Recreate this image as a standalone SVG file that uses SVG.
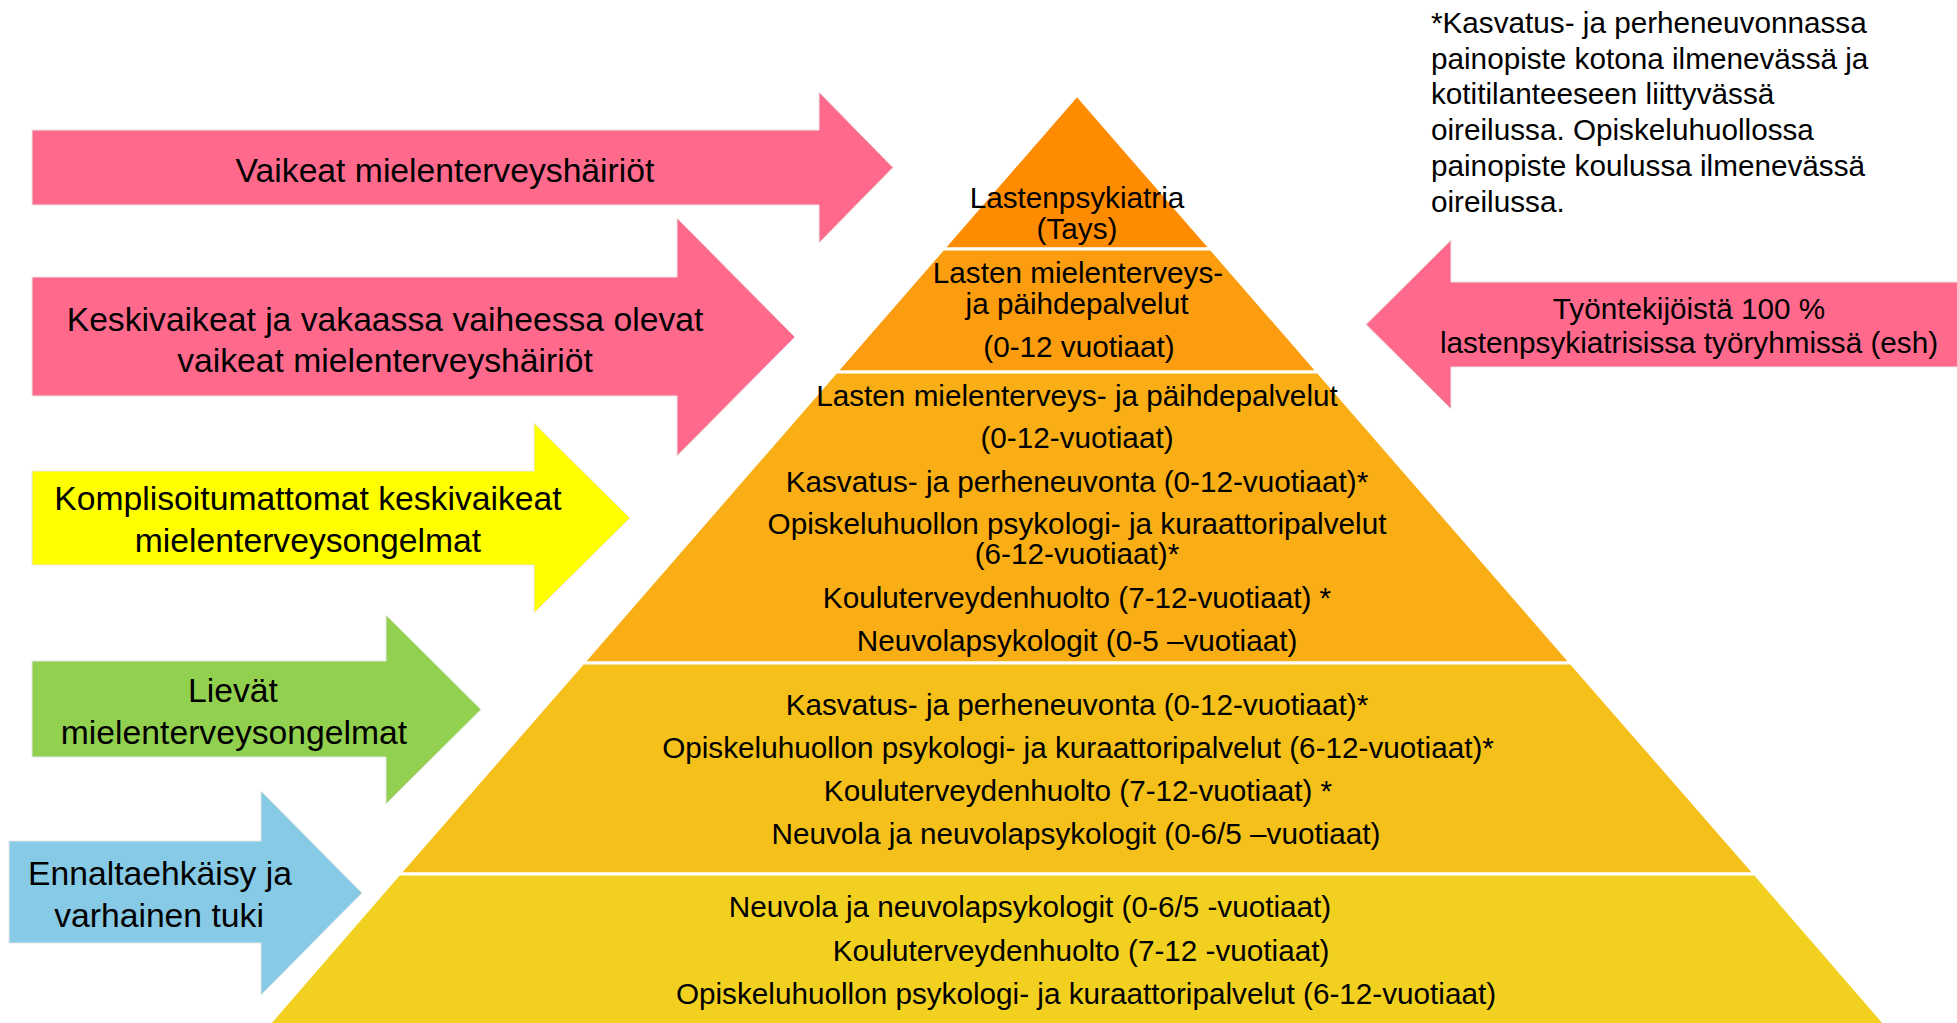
<svg xmlns="http://www.w3.org/2000/svg" width="1957" height="1023" viewBox="0 0 1957 1023">
<style>
text{font-family:"Liberation Sans",Arial,sans-serif;fill:#000}
.t{font-size:29.7px;text-anchor:middle}
.a{font-size:33.7px;text-anchor:middle}
.n{font-size:29.7px}
.pink{fill:#FF6A8C}
.lay{stroke:#ffffff;stroke-width:3}
.arr{stroke:#e6e6e6;stroke-width:1}
</style>
<rect width="1957" height="1023" fill="#ffffff"/>
<g id="connectors"/>
<g id="pyramid">
<g id="layer1"><polygon class="lay" fill="#FF8C00" points="1077,95 1211,249 943,249"/>
<text class="t" x="1077" y="208">Lastenpsykiatria</text>
<text class="t" x="1077" y="239">(Tays)</text></g>
<g id="layer2"><polygon class="lay" fill="#FB9D0E" points="943,249 1211,249 1318,372 836,372"/>
<text class="t" x="1078" y="283">Lasten mielenterveys-</text>
<text class="t" x="1077" y="314">ja päihdepalvelut</text>
<text class="t" x="1079" y="357">(0-12 vuotiaat)</text></g>
<g id="layer3"><polygon class="lay" fill="#F8AE14" points="836,372 1318,372 1571,663 583,663"/>
<text class="t" x="1077" y="406">Lasten mielenterveys- ja päihdepalvelut</text>
<text class="t" x="1077" y="448">(0-12-vuotiaat)</text>
<text class="t" x="1077" y="492">Kasvatus- ja perheneuvonta (0-12-vuotiaat)*</text>
<text class="t" x="1077" y="534">Opiskeluhuollon psykologi- ja kuraattoripalvelut</text>
<text class="t" x="1077" y="564">(6-12-vuotiaat)*</text>
<text class="t" x="1077" y="608">Kouluterveydenhuolto (7-12-vuotiaat) *</text>
<text class="t" x="1077" y="651">Neuvolapsykologit (0-5 –vuotiaat)</text></g>
<g id="layer4"><polygon class="lay" fill="#F5C019" points="583,663 1571,663 1755,874 399,874"/>
<text class="t" x="1077" y="715">Kasvatus- ja perheneuvonta (0-12-vuotiaat)*</text>
<text class="t" x="1078" y="758">Opiskeluhuollon psykologi- ja kuraattoripalvelut (6-12-vuotiaat)*</text>
<text class="t" x="1078" y="801">Kouluterveydenhuolto (7-12-vuotiaat) *</text>
<text class="t" x="1076" y="844">Neuvola ja neuvolapsykologit (0-6/5 –vuotiaat)</text></g>
<g id="layer5"><polygon class="lay" fill="#F2D020" points="399,874 1755,874 1892,1032 262,1032"/>
<text class="t" x="1030" y="917">Neuvola ja neuvolapsykologit (0-6/5 -vuotiaat)</text>
<text class="t" x="1081" y="961">Kouluterveydenhuolto (7-12 -vuotiaat)</text>
<text class="t" x="1086" y="1004">Opiskeluhuollon psykologi- ja kuraattoripalvelut (6-12-vuotiaat)</text></g>
</g>
<g id="arrow-vaikeat"><polygon class="pink arr" points="32,130 819,130 819,92 893,167.5 819,243 819,205 32,205"/>
<text class="a" x="445" y="181.5">Vaikeat mielenterveyshäiriöt</text></g>
<g id="arrow-keskivaikeat"><polygon class="pink arr" points="32,277 677,277 677,218 795,337 677,456 677,396 32,396"/>
<text class="a" x="385" y="330.5">Keskivaikeat ja vakaassa vaiheessa olevat</text>
<text class="a" x="385" y="372">vaikeat mielenterveyshäiriöt</text></g>
<g id="arrow-komplisoitumattomat"><polygon class="arr" fill="#FFFF00" points="32,471 534,471 534,423 630,518 534,613 534,565 32,565"/>
<text class="a" x="308" y="510">Komplisoitumattomat keskivaikeat</text>
<text class="a" x="308" y="551.5">mielenterveysongelmat</text></g>
<g id="arrow-lievat"><polygon class="arr" fill="#92D050" points="32,661 386,661 386,615 481,709.5 386,804 386,757 32,757"/>
<text class="a" x="233" y="702">Lievät</text>
<text class="a" x="234" y="743.5">mielenterveysongelmat</text></g>
<g id="arrow-ennaltaehkaisy"><polygon class="arr" fill="#87CAE6" points="9,841 261,841 261,791 362,893 261,995 261,943 9,943"/>
<text class="a" x="160" y="885">Ennaltaehkäisy ja</text>
<text class="a" x="159" y="926.5">varhainen tuki</text></g>
<g id="arrow-tyontekijoista"><polygon class="pink arr" points="1366,324.5 1451,240 1451,282 1960,282 1960,367 1451,367 1451,409"/>
<text class="t" x="1689" y="318.5">Työntekijöistä 100 %</text>
<text class="t" x="1689" y="353">lastenpsykiatrisissa työryhmissä (esh)</text></g>
<g id="footnote">
<text class="n" x="1431" y="32.5">*Kasvatus- ja perheneuvonnassa</text>
<text class="n" x="1431" y="68.5">painopiste kotona ilmenevässä ja</text>
<text class="n" x="1431" y="104">kotitilanteeseen liittyvässä</text>
<text class="n" x="1431" y="140">oireilussa. Opiskeluhuollossa</text>
<text class="n" x="1431" y="176">painopiste koulussa ilmenevässä</text>
<text class="n" x="1431" y="212">oireilussa.</text>
</g>
</svg>
